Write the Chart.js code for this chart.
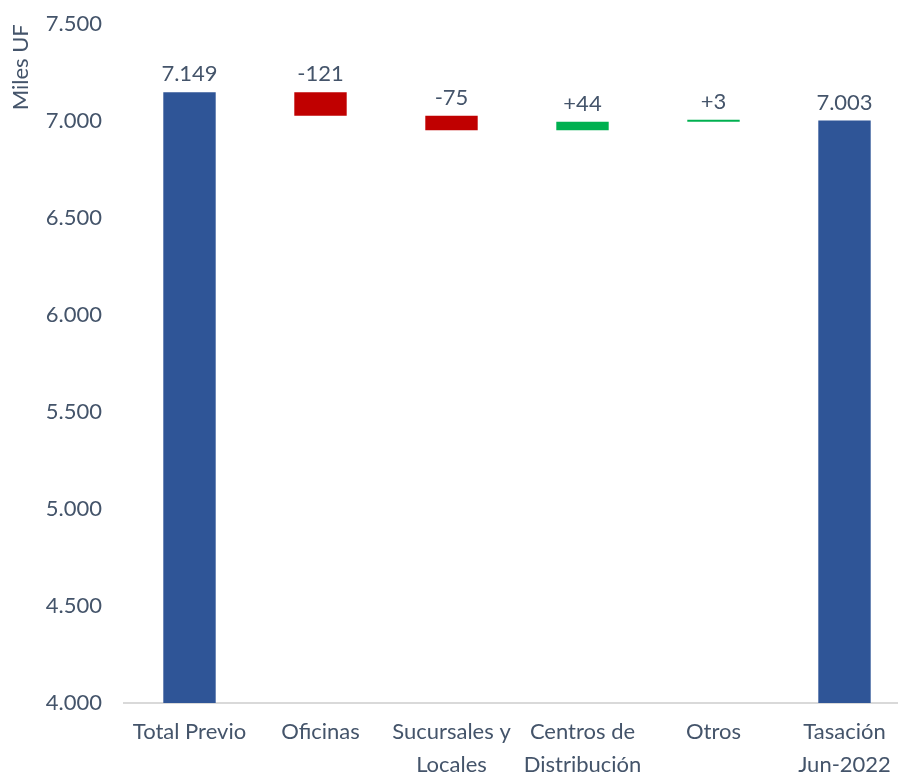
<!DOCTYPE html>
<html><head><meta charset="utf-8">
<script src="https://cdn.jsdelivr.net/npm/chart.js@4.4.1/dist/chart.umd.min.js"></script>
<style>
html,body{margin:0;padding:0;background:#fff;overflow:hidden;}
#wrap{position:absolute;left:0;top:-11px;width:910px;height:785px;}
</style></head>
<body>
<div id="wrap"><canvas id="c"></canvas></div>
<script>
const categories = [["Total Previo"], ["Oficinas"], ["Sucursales y", "Locales"], ["Centros de", "Distribución"], ["Otros"], ["Tasación", "Jun-2022"]];
const startTotal = 7149;
const changes = [-121, -75, 44, 3];
const endTotal = 7003;
const labels = ["7.149", "-121", "-75", "+44", "+3", "7.003"];
const yTicks = [4000, 4500, 5000, 5500, 6000, 6500, 7000, 7500];

const BLUE = "#2F5597", RED = "#C00000", GREEN = "#00B050", TEXT = "#44546A";

// build floating ranges from the values
const ranges = [[4000, startTotal]];
const colors = [BLUE];
let run = startTotal;
changes.forEach(v => {
  ranges.push([run, run + v]);
  colors.push(v < 0 ? RED : GREEN);
  run += v;
});
ranges.push([4000, endTotal]);
colors.push(BLUE);

const fmt = v => (v / 1000).toFixed(3);

const labelPlugin = {
  id: "barLabels",
  afterDatasetsDraw(chart) {
    const ctx = chart.ctx;
    const meta = chart.getDatasetMeta(0);
    ctx.save();
    ctx.fillStyle = TEXT;
    ctx.font = "22px Lato";
    ctx.textAlign = "center";
    ctx.textBaseline = "alphabetic";
    meta.data.forEach((el, i) => {
      const top = Math.min(el.y, el.base);
      ctx.fillText(labels[i], el.x, top - 11);
    });
    ctx.restore();
  }
};

new Chart(document.getElementById("c"), {
  type: "bar",
  data: {
    labels: categories,
    datasets: [{
      data: ranges,
      backgroundColor: colors,
      borderWidth: 0,
      barPercentage: 0.4,
      categoryPercentage: 1.0,
      minBarLength: 2
    }]
  },
  options: {
    responsive: true,
    maintainAspectRatio: false,
    animation: false,
    layout: {padding: {top: 1, right: 0, bottom: 0, left: 8}},
    plugins: {legend: {display: false}, tooltip: {enabled: false}},
    scales: {
      x: {
        grid: {display: false, drawTicks: false},
        border: {display: true, color: "#D9D9D9", width: 2},
        ticks: {color: TEXT, font: {family: "Lato", size: 22, lineHeight: 1.5}, padding: 12, maxRotation: 0, autoSkip: false},
        afterFit(s) { s.height = 71; }
      },
      y: {
        min: 4000, max: 7500,
        afterBuildTicks(s) { s.ticks = yTicks.map(v => ({value: v})); },
        grid: {display: false, drawTicks: false},
        border: {display: false},
        ticks: {color: TEXT, font: {family: "Lato", size: 22}, padding: 22, callback: v => fmt(v)},
        title: {display: true, text: "Miles UF", color: TEXT, align: "end", font: {family: "Lato", size: 22}, padding: {top: 0, bottom: 0}},
        afterFit(s) { s.width = 116; }
      }
    }
  },
  plugins: [labelPlugin]
});
</script>
</body></html>
